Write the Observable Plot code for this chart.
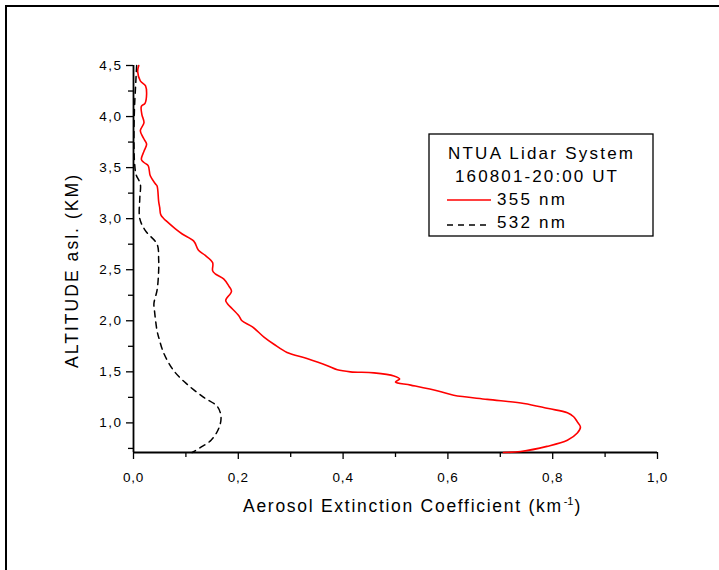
<!DOCTYPE html>
<html>
<head>
<meta charset="utf-8">
<script src="https://cdn.jsdelivr.net/npm/d3@7"></script>
<script src="https://cdn.jsdelivr.net/npm/@observablehq/plot@0.6"></script>
<style>
  html, body { margin: 0; padding: 0; background: #fff; }
  #chart svg { display: block; }
</style>
</head>
<body>
<div id="chart"></div>
<script>
// ---- Data ----
const alt355 = [4.50,4.44,4.35,4.30,4.22,4.13,4.10,4.02,3.94,3.86,3.78,3.73,3.66,3.58,3.55,3.52,3.42,3.34,3.32,3.17,3.11,3.04,3.00,2.98,2.90,2.85,2.78,2.69,2.64,2.57,2.49,2.46,2.41,2.34,2.29,2.20,2.17,2.05,2.00,1.94,1.84,1.77,1.69,1.63,1.56,1.52,1.50,1.49,1.46,1.43,1.40,1.37,1.31,1.27,1.23,1.19,1.14,1.10,1.06,1.01,0.96,0.90,0.83,0.77,0.72,0.71];
const ext355 = [0.010,0.008,0.013,0.023,0.025,0.022,0.015,0.016,0.020,0.013,0.020,0.025,0.020,0.015,0.020,0.028,0.032,0.042,0.045,0.048,0.050,0.052,0.058,0.062,0.080,0.093,0.115,0.124,0.137,0.151,0.151,0.156,0.172,0.182,0.187,0.176,0.179,0.201,0.207,0.227,0.249,0.268,0.293,0.331,0.370,0.389,0.414,0.459,0.497,0.508,0.500,0.529,0.583,0.611,0.675,0.745,0.792,0.828,0.840,0.847,0.853,0.847,0.828,0.789,0.739,0.706];

const alt532 = [4.50,4.40,4.30,4.10,3.90,3.70,3.55,3.43,3.34,3.20,3.00,2.88,2.75,2.60,2.49,2.30,2.17,2.10,1.90,1.84,1.68,1.51,1.38,1.25,1.16,1.06,0.95,0.83,0.76,0.71];
const ext532 = [0.006,0.005,0.004,0.002,0.001,0.001,0.002,0.005,0.013,0.012,0.012,0.023,0.045,0.048,0.048,0.045,0.039,0.040,0.045,0.048,0.058,0.077,0.102,0.134,0.160,0.167,0.163,0.148,0.128,0.112];

const xMajorTicks = [0.0, 0.2, 0.4, 0.6, 0.8, 1.0];
const xMinorTicks = [0.1, 0.3, 0.5, 0.7, 0.9];
const yMajorTicks = [1.0, 1.5, 2.0, 2.5, 3.0, 3.5, 4.0, 4.5];
const yMinorTicks = [0.75, 1.25, 1.75, 2.25, 2.75, 3.25, 3.75, 4.25];

const xLabelMain = "Aerosol Extinction Coefficient (km";
const xLabelSup = "-1";
const yLabel = "ALTITUDE asl. (KM)";
const legendTitle1 = "NTUA Lidar System";
const legendTitle2 = "160801-20:00 UT";
const seriesNames = ["355 nm", "532 nm"];

// ---- Build tables ----
const d355 = alt355.map((a, i) => ({alt: a, ext: ext355[i]}));
const d532 = alt532.map((a, i) => ({alt: a, ext: ext532[i]}));
const fmt = d => d.toFixed(1).replace(".", ",");
const FONT = "'Liberation Sans', Arial, Helvetica, sans-serif";

const chart = Plot.plot({
  width: 719,
  height: 570,
  marginLeft: 133,
  marginRight: 62,
  marginTop: 65,
  marginBottom: 118,
  x: {domain: [0, 1]},
  y: {domain: [0.71, 4.5]},
  style: {fontFamily: FONT, color: "#000", background: "#fff", overflow: "visible"},
  marks: [
    Plot.axisX({ticks: xMajorTicks, tickSize: 7, tickFormat: () => "", label: null, strokeWidth: 1.3}),
    Plot.axisX({ticks: xMinorTicks, tickSize: 5, tickFormat: () => "", label: null, strokeWidth: 1.3}),
    Plot.axisY({ticks: yMajorTicks, tickSize: 7, tickFormat: () => "", label: null, strokeWidth: 1.3}),
    Plot.axisY({ticks: yMinorTicks, tickSize: 5, tickFormat: () => "", label: null, strokeWidth: 1.3}),
    // tick labels (explicit font size)
    Plot.text(xMajorTicks, {x: d => d, frameAnchor: "bottom", dy: 29, text: fmt, fontSize: 13.5,
      textAnchor: "middle", lineAnchor: "bottom", fill: "#000"}),
    Plot.text(yMajorTicks, {y: d => d, frameAnchor: "left", dx: -11, text: fmt, fontSize: 13.5,
      textAnchor: "end", lineAnchor: "middle", fill: "#000"}),
    Plot.ruleY([0.71], {x1: 0, x2: 1, stroke: "#000", strokeWidth: 1.8}),
    Plot.ruleX([0], {y1: 0.71, y2: 4.5, stroke: "#000", strokeWidth: 1.8}),
    Plot.line(d532, {x: "ext", y: "alt", stroke: "#000", strokeWidth: 1.5, strokeDasharray: "6,5", curve: "catmull-rom"}),
    Plot.line(d355, {x: "ext", y: "alt", stroke: "#ff0000", strokeWidth: 1.6, curve: "catmull-rom"})
  ]
});

document.getElementById("chart").appendChild(chart);

const svg = d3.select(chart);
// widen tick labels slightly (reference font is a little wider)
svg.selectAll("text").each(function() {
  const t = d3.select(this);
  const anchorEl = this.closest("[text-anchor]");
  const anchor = t.attr("text-anchor") || (anchorEl ? anchorEl.getAttribute("text-anchor") : "");
  t.style("letter-spacing", anchor === "end" ? "1.5px" : "0.8px");
});

// Outer frame
svg.append("rect")
  .attr("x", 6).attr("y", 6).attr("width", 900).attr("height", 900)
  .attr("fill", "none").attr("stroke", "#000").attr("stroke-width", 2);

// X axis label with superscript
const xl = svg.append("text")
  .attr("x", 243).attr("y", 512).attr("text-anchor", "start")
  .attr("font-family", FONT).attr("font-size", 17.5).attr("fill", "#000");
xl.append("tspan").text(xLabelMain).attr("textLength", 318).attr("lengthAdjust", "spacing");
xl.append("tspan").text(xLabelSup).attr("font-size", 11).attr("dy", -7).attr("dx", 1);
xl.append("tspan").text(")").attr("dy", 7).attr("dx", 1);

// Y axis label
svg.append("text")
  .attr("transform", "translate(78,368) rotate(-90)").attr("text-anchor", "start")
  .attr("font-family", FONT).attr("font-size", 17.5).attr("fill", "#000")
  .attr("textLength", 193).attr("lengthAdjust", "spacing")
  .text(yLabel);

// Legend
const lg = svg.append("g").attr("font-family", FONT).attr("font-size", 17).attr("fill", "#000").attr("text-anchor", "start");
lg.append("rect").attr("x", 429).attr("y", 134).attr("width", 224).attr("height", 102)
  .attr("fill", "#fff").attr("stroke", "#000").attr("stroke-width", 1.3);
lg.append("text").attr("x", 448).attr("y", 159).attr("textLength", 185).attr("lengthAdjust", "spacing").text(legendTitle1);
lg.append("text").attr("x", 455).attr("y", 182).attr("textLength", 162).attr("lengthAdjust", "spacing").text(legendTitle2);
lg.append("line").attr("x1", 447).attr("x2", 491).attr("y1", 200).attr("y2", 200)
  .attr("stroke", "#ff0000").attr("stroke-width", 1.6);
lg.append("text").attr("x", 497).attr("y", 205).attr("textLength", 68).attr("lengthAdjust", "spacing").text(seriesNames[0]);
lg.append("line").attr("x1", 447).attr("x2", 491).attr("y1", 225).attr("y2", 225)
  .attr("stroke", "#000").attr("stroke-width", 1.5).attr("stroke-dasharray", "6,5");
lg.append("text").attr("x", 497).attr("y", 228).attr("textLength", 68).attr("lengthAdjust", "spacing").text(seriesNames[1]);
</script>
</body>
</html>
